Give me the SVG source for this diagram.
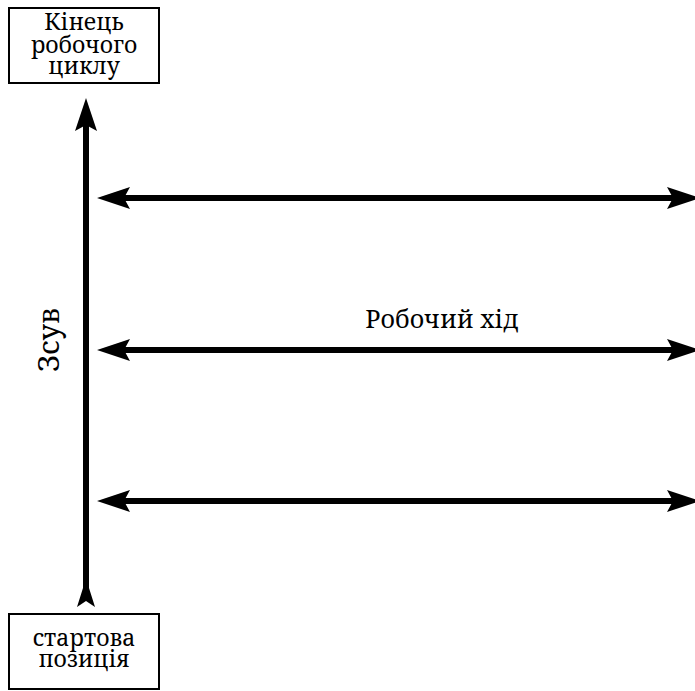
<svg xmlns="http://www.w3.org/2000/svg" width="695" height="691" viewBox="0 0 695 691">
  <style>
    .box { fill: #ffffff; stroke: #000000; stroke-width: 2; }
    .lbl { font-family: "Noto Serif", "DejaVu Serif", "Liberation Serif", serif; font-size: 23px; fill: #000000; text-anchor: middle; }
    .shaft { stroke: #000000; stroke-width: 6; fill: none; }
  </style>
  <defs>
    <!-- Notched arrowhead; reference point sits in the notch so the shaft ends inside it -->
    <marker id="head" markerUnits="userSpaceOnUse" markerWidth="34" markerHeight="22" viewBox="0 0 34 22" refX="6" refY="11" orient="auto-start-reverse">
      <path d="M0,0 L33,11 L0,22 L6,11 Z" fill="#000000"/>
    </marker>
  </defs>

  <g id="node-end">
    <rect class="box" x="9" y="8" width="150" height="75"/>
    <text class="lbl" x="84" y="30">Кінець</text>
    <text class="lbl" x="84" y="53">робочого</text>
    <text class="lbl" x="84" y="74">циклу</text>
  </g>

  <g id="node-start">
    <rect class="box" x="9" y="614" width="150" height="75"/>
    <text class="lbl" x="84" y="646">стартова</text>
    <text class="lbl" x="84" y="667">позиція</text>
  </g>

  <g id="connectors">
    <!-- vertical shift axis: arrow at the top, flared tail at the bottom -->
    <line class="shaft" x1="86" y1="595" x2="86" y2="125" marker-end="url(#head)"/>
    <polygon points="83,588 89,588 95,607 86,601 77,607" fill="#000000"/>
    <!-- working strokes -->
    <line class="shaft" x1="124" y1="198" x2="673" y2="198" marker-start="url(#head)" marker-end="url(#head)"/>
    <line class="shaft" x1="124" y1="350" x2="673" y2="350" marker-start="url(#head)" marker-end="url(#head)"/>
    <line class="shaft" x1="124" y1="501" x2="673" y2="501" marker-start="url(#head)" marker-end="url(#head)"/>
  </g>

  <g id="labels">
    <text class="lbl" x="442" y="328" style="font-size:25px">Робочий хід</text>
    <text class="lbl" transform="translate(59,340) rotate(-90)" x="0" y="0" style="font-size:29px">Зсув</text>
  </g>
</svg>
